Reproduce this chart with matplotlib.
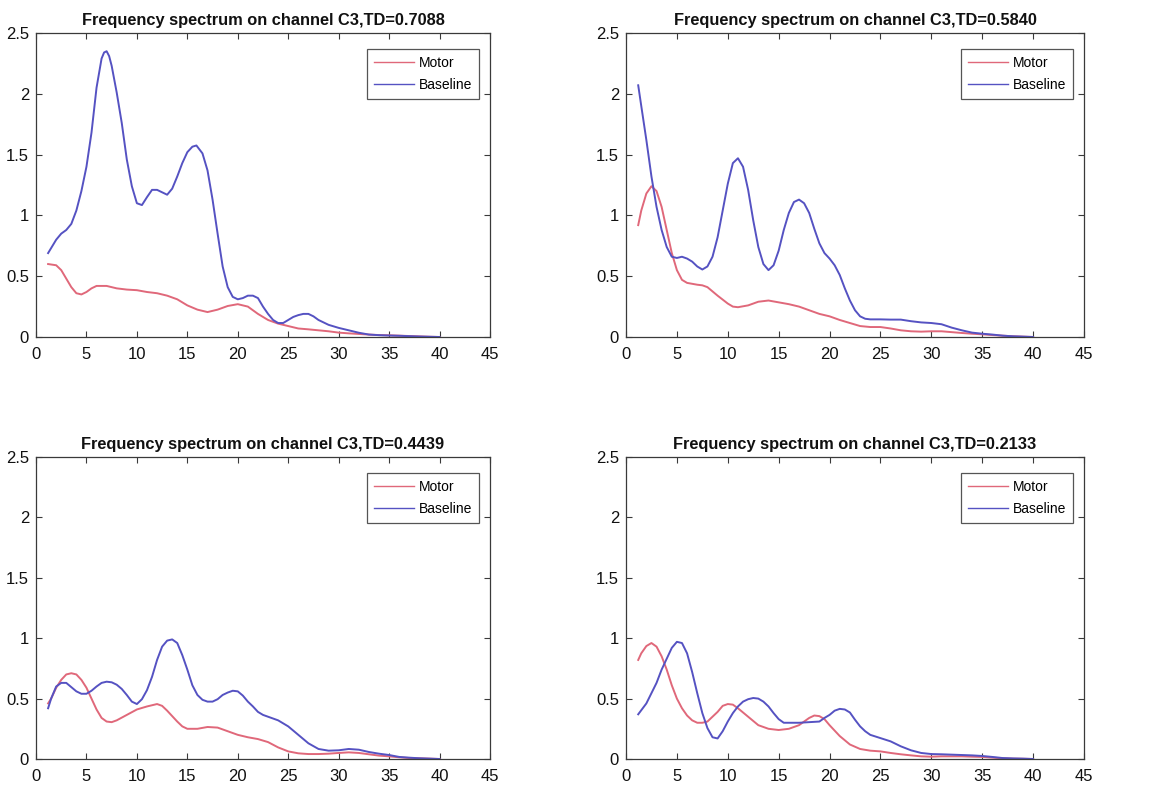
import matplotlib
matplotlib.use("Agg")
import matplotlib.pyplot as plt

# ---------------- data ----------------
titles = [
    "Frequency spectrum on channel C3,TD=0.7088",
    "Frequency spectrum on channel C3,TD=0.5840",
    "Frequency spectrum on channel C3,TD=0.4439",
    "Frequency spectrum on channel C3,TD=0.2133",
]
series_labels = ["Motor", "Baseline"]

# Panel 1 (top-left)
p1_base_f = [1.2, 2, 2.5, 3, 3.5, 4, 4.5, 5, 5.5, 6, 6.5, 6.75, 7, 7.25, 7.5, 8, 8.5, 9, 9.5, 10,
             10.5, 11, 11.5, 12, 12.5, 13, 13.5, 14, 14.5, 15, 15.5, 15.9, 16.5, 17, 17.5, 18,
             18.5, 19, 19.5, 20, 20.5, 21, 21.5, 22, 22.5, 23, 23.5, 24, 24.5, 25, 25.5, 26, 26.5,
             27, 27.5, 28, 29, 30, 31, 32, 33, 34, 35, 36, 37, 38, 39, 40]
p1_base_v = [0.69, 0.80, 0.85, 0.88, 0.93, 1.04, 1.20, 1.40, 1.68, 2.05, 2.29, 2.34, 2.35, 2.31,
             2.23, 2.01, 1.76, 1.46, 1.24, 1.10, 1.085, 1.15, 1.21, 1.21, 1.19, 1.17, 1.22, 1.32,
             1.43, 1.52, 1.565, 1.575, 1.51, 1.37, 1.13, 0.85, 0.58, 0.41, 0.33, 0.31, 0.32, 0.34,
             0.34, 0.32, 0.25, 0.19, 0.14, 0.115, 0.115, 0.14, 0.165, 0.18, 0.19, 0.19, 0.17,
             0.14, 0.10, 0.075, 0.055, 0.035, 0.02, 0.015, 0.012, 0.01, 0.007, 0.004, 0.002, 0.0]
p1_motor_f = [1.2, 2, 2.5, 3, 3.5, 4, 4.5, 5, 5.5, 6, 7, 8, 9, 10, 11, 12, 13, 14, 15, 16, 17, 18,
              19, 20, 21, 22, 23, 24, 25, 26, 27, 28, 29, 30, 31, 32, 33, 34, 35, 36, 37, 38, 39, 40]
p1_motor_v = [0.60, 0.59, 0.55, 0.48, 0.41, 0.36, 0.35, 0.37, 0.40, 0.42, 0.42, 0.40, 0.39, 0.385,
              0.37, 0.36, 0.34, 0.31, 0.26, 0.225, 0.205, 0.225, 0.255, 0.27, 0.25, 0.19, 0.14,
              0.11, 0.09, 0.07, 0.063, 0.055, 0.047, 0.036, 0.03, 0.025, 0.02, 0.016, 0.014,
              0.011, 0.008, 0.005, 0.002, 0.0]

# Panel 2 (top-right)
p2_base_f = [1.2, 1.5, 2, 2.5, 3, 3.5, 4, 4.5, 5, 5.5, 6, 6.5, 7, 7.5, 8, 8.5, 9, 9.5, 10, 10.5,
             11, 11.5, 12, 12.5, 13, 13.5, 14, 14.5, 15, 15.5, 16, 16.5, 17, 17.5, 18, 18.5, 19,
             19.5, 20, 20.5, 21, 21.5, 22, 22.5, 23, 23.5, 24, 25, 26, 27, 28, 29, 30, 31, 32, 33,
             34, 35, 36, 37, 38, 39, 40]
p2_base_v = [2.07, 1.90, 1.62, 1.32, 1.07, 0.88, 0.74, 0.66, 0.65, 0.66, 0.645, 0.62, 0.58, 0.555,
             0.58, 0.66, 0.82, 1.04, 1.26, 1.43, 1.47, 1.40, 1.21, 0.96, 0.74, 0.60, 0.55, 0.59,
             0.71, 0.88, 1.02, 1.11, 1.13, 1.10, 1.02, 0.89, 0.77, 0.69, 0.645, 0.59, 0.51, 0.40,
             0.30, 0.22, 0.17, 0.15, 0.145, 0.145, 0.143, 0.143, 0.13, 0.12, 0.115, 0.105, 0.077,
             0.055, 0.036, 0.027, 0.02, 0.011, 0.006, 0.003, 0.0]
p2_motor_f = [1.2, 1.5, 2, 2.5, 3, 3.5, 4, 4.5, 5, 5.5, 6, 7, 7.5, 8, 9, 10, 10.5, 11, 12, 13, 14,
              15, 16, 17, 18, 19, 20, 21, 22, 23, 24, 25, 26, 27, 28, 29, 30, 31, 32, 33, 34, 35,
              36, 37, 38, 39, 40]
p2_motor_v = [0.92, 1.04, 1.18, 1.24, 1.20, 1.07, 0.88, 0.69, 0.55, 0.47, 0.445, 0.43, 0.425,
              0.41, 0.34, 0.275, 0.25, 0.245, 0.26, 0.29, 0.30, 0.285, 0.27, 0.25, 0.22, 0.19,
              0.17, 0.14, 0.115, 0.09, 0.082, 0.082, 0.07, 0.055, 0.047, 0.044, 0.047, 0.047,
              0.04, 0.033, 0.027, 0.022, 0.016, 0.011, 0.006, 0.003, 0.0]

# Panel 3 (bottom-left)
p3_base_f = [1.2, 1.5, 2, 2.5, 3, 3.5, 4, 4.5, 5, 5.5, 6, 6.5, 7, 7.5, 8, 8.5, 9, 9.5, 10, 10.5,
             11, 11.5, 12, 12.5, 13, 13.5, 14, 14.5, 15, 15.5, 16, 16.5, 17, 17.5, 18, 18.5, 19,
             19.5, 20, 20.5, 21, 21.5, 22, 22.5, 23, 24, 25, 26, 27, 28, 29, 30, 31, 32, 33, 34,
             35, 36, 37, 38, 39, 40]
p3_base_v = [0.42, 0.50, 0.60, 0.63, 0.63, 0.595, 0.56, 0.54, 0.54, 0.565, 0.60, 0.63, 0.64, 0.635,
             0.615, 0.58, 0.53, 0.475, 0.455, 0.495, 0.57, 0.68, 0.82, 0.93, 0.98, 0.99, 0.96,
             0.86, 0.74, 0.61, 0.53, 0.49, 0.475, 0.475, 0.495, 0.53, 0.55, 0.565, 0.56, 0.525,
             0.475, 0.435, 0.39, 0.365, 0.35, 0.32, 0.27, 0.20, 0.13, 0.083, 0.069, 0.072, 0.083,
             0.077, 0.058, 0.044, 0.033, 0.017, 0.011, 0.006, 0.003, 0.0]
p3_motor_f = [1.2, 1.5, 2, 2.5, 3, 3.5, 4, 4.5, 5, 5.5, 6, 6.5, 7, 7.5, 8, 9, 10, 11, 12, 12.5, 13,
              14, 14.5, 15, 16, 17, 18, 19, 20, 21, 22, 23, 24, 25, 26, 27, 28, 29, 30, 31, 32,
              33, 34, 35, 36, 37, 38, 39, 40]
p3_motor_v = [0.46, 0.50, 0.59, 0.655, 0.70, 0.71, 0.70, 0.655, 0.59, 0.50, 0.41, 0.34, 0.31,
              0.305, 0.32, 0.365, 0.41, 0.435, 0.455, 0.44, 0.40, 0.31, 0.27, 0.25, 0.25, 0.265,
              0.26, 0.23, 0.20, 0.18, 0.165, 0.14, 0.096, 0.063, 0.047, 0.041, 0.041, 0.044, 0.05,
              0.055, 0.05, 0.039, 0.028, 0.022, 0.014, 0.008, 0.006, 0.003, 0.0]

# Panel 4 (bottom-right)
p4_base_f = [1.2, 2, 2.5, 3, 3.5, 4, 4.5, 5, 5.5, 6, 6.5, 7, 7.5, 8, 8.5, 9, 9.5, 10, 10.5, 11,
             11.5, 12, 12.5, 13, 13.5, 14, 14.5, 15, 15.5, 16, 17, 18, 19, 19.5, 20, 20.5, 21,
             21.5, 22, 22.5, 23, 23.5, 24, 25, 26, 27, 28, 29, 30, 31, 32, 33, 34, 35, 36, 37,
             38, 39, 40]
p4_base_v = [0.37, 0.46, 0.545, 0.63, 0.74, 0.83, 0.92, 0.97, 0.96, 0.875, 0.72, 0.545, 0.38,
             0.256, 0.18, 0.17, 0.23, 0.31, 0.38, 0.435, 0.475, 0.495, 0.505, 0.50, 0.475, 0.435,
             0.38, 0.33, 0.30, 0.30, 0.30, 0.305, 0.31, 0.34, 0.365, 0.40, 0.415, 0.41, 0.385,
             0.325, 0.27, 0.23, 0.20, 0.173, 0.146, 0.105, 0.072, 0.05, 0.041, 0.039, 0.036,
             0.033, 0.030, 0.025, 0.017, 0.008, 0.005, 0.003, 0.0]
p4_motor_f = [1.2, 1.5, 2, 2.5, 3, 3.5, 4, 4.5, 5, 5.5, 6, 6.5, 7, 7.5, 8, 8.5, 9, 9.5, 10, 10.5,
              11, 12, 13, 14, 15, 16, 17, 18, 18.5, 19, 19.5, 20, 21, 22, 23, 24, 25, 26, 27, 28,
              29, 30, 31, 32, 33, 34, 35, 36, 37, 38, 39, 40]
p4_motor_v = [0.82, 0.875, 0.935, 0.96, 0.93, 0.85, 0.74, 0.61, 0.50, 0.42, 0.36, 0.32, 0.30,
              0.30, 0.31, 0.35, 0.39, 0.44, 0.455, 0.45, 0.42, 0.35, 0.28, 0.25, 0.24, 0.25, 0.28,
              0.34, 0.36, 0.355, 0.33, 0.28, 0.19, 0.12, 0.083, 0.069, 0.063, 0.05, 0.039, 0.03,
              0.022, 0.019, 0.022, 0.022, 0.022, 0.019, 0.017, 0.011, 0.006, 0.003, 0.002, 0.0]

x_ticks = [0, 5, 10, 15, 20, 25, 30, 35, 40, 45]
x_ticklabels = ["0", "5", "10", "15", "20", "25", "30", "35", "40", "45"]
y_ticks = [0, 0.5, 1, 1.5, 2, 2.5]
y_ticklabels = ["0", "0.5", "1", "1.5", "2", "2.5"]

panels = [
    (p1_motor_f, p1_motor_v, p1_base_f, p1_base_v),
    (p2_motor_f, p2_motor_v, p2_base_f, p2_base_v),
    (p3_motor_f, p3_motor_v, p3_base_f, p3_base_v),
    (p4_motor_f, p4_motor_v, p4_base_f, p4_base_v),
]

# ---------------- style ----------------
plt.rcParams["font.family"] = ["Liberation Sans", "DejaVu Sans"]

motor_color = "#e0687a"
base_color = "#5552c2"
axis_color = "#3a3a3a"

W, H = 1150, 797
rects = [
    (36 / W, 1 - 337 / H, 454 / W, 304 / H),
    (626 / W, 1 - 337 / H, 458 / W, 304 / H),
    (36 / W, 1 - 759 / H, 454 / W, 302 / H),
    (626 / W, 1 - 759 / H, 458 / W, 302 / H),
]

fig = plt.figure(figsize=(W / 100, H / 100), dpi=100)
fig.patch.set_facecolor("white")

for rect, title, (mf, mv, bf, bv) in zip(rects, titles, panels):
    ax = fig.add_axes(rect)
    ax.plot(mf, mv, color=motor_color, lw=1.4, label=series_labels[0])
    ax.plot(bf, bv, color=base_color, lw=1.4, label=series_labels[1])
    ax.set_xlim(0, 45)
    ax.set_ylim(0, 2.5)
    ax.set_xticks(x_ticks)
    ax.set_xticklabels(x_ticklabels)
    ax.set_yticks(y_ticks)
    ax.set_yticklabels(y_ticklabels)
    ax.tick_params(direction="in", top=True, right=True, length=4, width=0.8,
                   colors=axis_color, labelcolor="#111111", labelsize=12)
    ax.tick_params(axis="x", pad=7)
    ax.tick_params(axis="y", pad=5)
    for s in ax.spines.values():
        s.set_color(axis_color)
        s.set_linewidth(0.9)
    ax.set_title(title, fontsize=11.8, fontweight="bold", color="#111111", pad=6)
    leg = ax.legend(loc="upper right", bbox_to_anchor=(0.976, 0.948), borderaxespad=0,
                    fontsize=10, frameon=True, fancybox=False,
                    edgecolor="#555555", framealpha=1, handlelength=2.9,
                    borderpad=0.5, labelspacing=0.6, handletextpad=0.35)
    leg.get_frame().set_linewidth(0.9)
    for ln in leg.get_lines():
        ln.set_linewidth(1.0)

fig.savefig("out.png", dpi=100, facecolor="white")
